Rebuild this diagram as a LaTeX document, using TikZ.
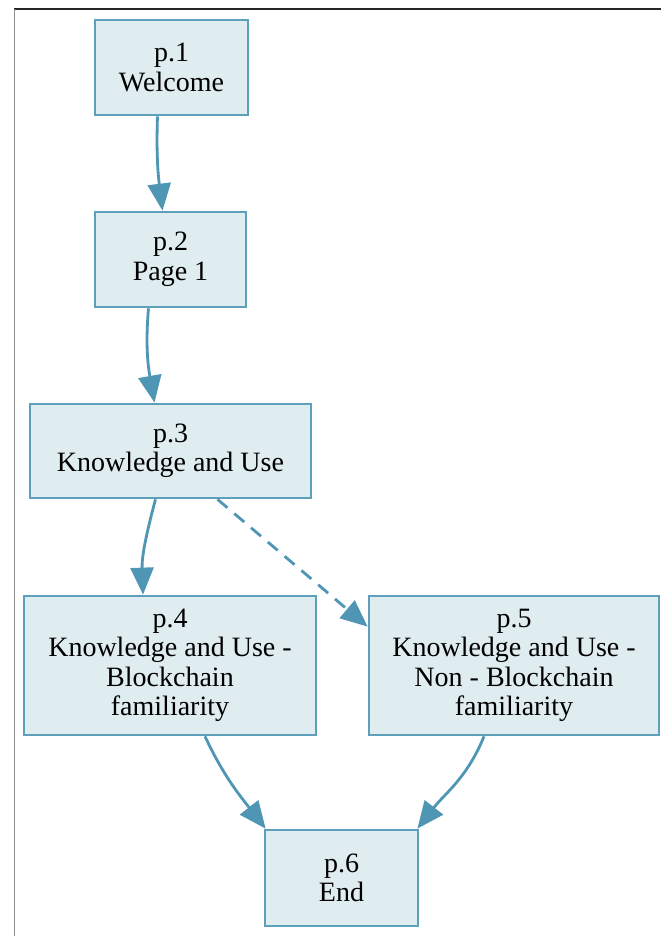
\documentclass[tikz,border=0pt]{standalone}
\usepackage{fontspec}
\setmainfont{Liberation Serif}
\usetikzlibrary{arrows.meta}
\definecolor{boxfill}{HTML}{DFECF0}
\definecolor{boxline}{HTML}{5E9FBC}
\definecolor{edgecol}{HTML}{4F95B4}
\begin{document}
\begin{tikzpicture}[x=1pt,y=1pt,
  page/.style={draw=boxline, line width=2.7pt, fill=boxfill, align=center, inner sep=0pt,
    font=\fontsize{28}{29.5}\selectfont, text=black},
  link/.style={draw=edgecol, line width=2.8pt, -{Triangle[length=27pt,width=23pt]}}]
\useasboundingbox (0,0) rectangle (661,936);
\draw[black!85, line width=2pt] (14,927) -- (661,927);
\draw[black!45, line width=1pt] (14,927) -- (14,0);
\node[page, minimum width=153pt, minimum height=95pt] (p1) at (171.5,868.5) {p.1\\Welcome};
\node[page, minimum width=151pt, minimum height=95pt] (p2) at (170.5,676.5) {p.2\\Page 1};
\node[page, minimum width=281pt, minimum height=94pt] (p3) at (170.5,485) {p.3\\Knowledge and Use};
\node[page, minimum width=292pt, minimum height=139pt] (p4) at (170,270.5) {p.4\\Knowledge and Use -\\Blockchain\\familiarity};
\node[page, minimum width=290pt, minimum height=139pt] (p5) at (514,270.5) {p.5\\Knowledge and Use -\\Non - Blockchain\\familiarity};
\node[page, minimum width=153pt, minimum height=96pt] (p6) at (341.5,58) {p.6\\End};
\draw[link] ([xshift=-14pt]p1.south) to[out=-92,in=97] ([xshift=-8pt]p2.north);
\draw[link] ([xshift=-22pt]p2.south) to[out=-95,in=100] ([xshift=-16pt]p3.north);
\draw[link] ([xshift=-15pt]p3.south) to[out=-105,in=92] ([xshift=-27pt]p4.north);
\draw[link, dash pattern=on 13pt off 9pt] ([xshift=47pt]p3.south) -- ([yshift=-32pt]p5.north west);
\draw[link] ([xshift=35pt]p4.south) to[out=-65,in=128] ([xshift=2pt]p6.north west);
\draw[link] ([xshift=-30pt]p5.south) to[out=-112,in=52] ([xshift=-2pt]p6.north east);
\end{tikzpicture}
\end{document}
